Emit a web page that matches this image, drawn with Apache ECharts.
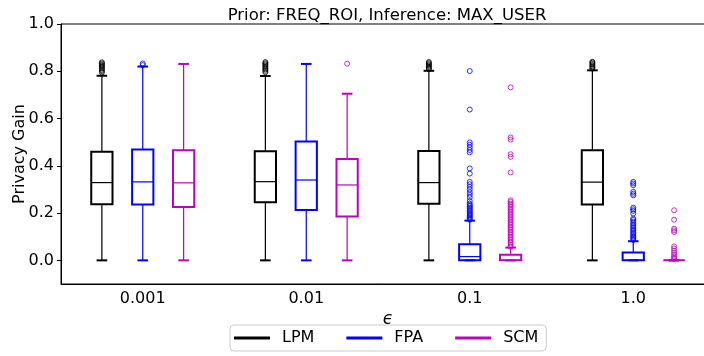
<!DOCTYPE html>
<html>
<head>
<meta charset="utf-8">
<script src="https://cdn.jsdelivr.net/npm/echarts@6/dist/echarts.min.js"></script>
<style>
  html, body { margin: 0; padding: 0; background: #fff; }
  #chart { width: 704px; height: 356px; }
</style>
</head>
<body>
<div id="chart"></div>
<script>
// epsilon values on the x axis
const categories = ['0.001', '0.01', '0.1', '1.0'];
const seriesNames = ['LPM', 'FPA', 'SCM'];
const seriesColors = ['#000000', '#0000ff', '#bf00bf'];
const yTicks = [0.0, 0.2, 0.4, 0.6, 0.8, 1.0];

// box stats per epsilon: [min, q1, median, q3, max]
const lpmStats = [
    [0, 0.237, 0.329, 0.459, 0.781],
    [0, 0.246, 0.333, 0.462, 0.780],
    [0, 0.239, 0.329, 0.463, 0.802],
    [0, 0.236, 0.331, 0.466, 0.804],
];
const fpaStats = [
    [0, 0.236, 0.332, 0.469, 0.820],
    [0, 0.213, 0.340, 0.503, 0.831],
    [0, 0.000, 0.016, 0.068, 0.168],
    [0, 0.000, 0.000, 0.033, 0.081],
];
const scmStats = [
    [0, 0.226, 0.328, 0.466, 0.831],
    [0, 0.186, 0.319, 0.429, 0.705],
    [0, 0.000, 0.000, 0.024, 0.054],
    [0, 0.000, 0.000, 0.000, 0.000],
];

// outliers (fliers) per epsilon
const lpmOutliers = [
    [0.795, 0.801, 0.806, 0.812, 0.818, 0.823, 0.828, 0.833, 0.838],
    [0.796, 0.802, 0.808, 0.813, 0.819, 0.824, 0.829, 0.834, 0.839],
    [0.809, 0.814, 0.819, 0.824, 0.829, 0.834, 0.839],
    [0.811, 0.816, 0.821, 0.826, 0.831, 0.836, 0.840],
];
const fpaOutliers = [
    [0.826, 0.833],
    [],
    [0.801, 0.638, 0.499, 0.489, 0.478, 0.467, 0.457, 0.389, 0.367, 0.332, 0.322,
     0.311, 0.300, 0.288, 0.277, 0.266, 0.251, 0.240, 0.234, 0.229, 0.223, 0.218,
     0.212, 0.207, 0.201, 0.196, 0.191, 0.186, 0.181, 0.176, 0.172],
    [0.332, 0.325, 0.318, 0.290, 0.282, 0.275, 0.223, 0.216, 0.209, 0.198, 0.177,
     0.171, 0.164, 0.157, 0.150, 0.144, 0.137, 0.131, 0.125, 0.119, 0.113, 0.107,
     0.101, 0.096, 0.091, 0.086],
];
const scmOutliers = [
    [],
    [0.832],
    [0.732, 0.520, 0.511, 0.449, 0.438, 0.372, 0.254, 0.247, 0.240, 0.233, 0.226,
     0.219, 0.212, 0.205, 0.198, 0.191, 0.184, 0.177, 0.170, 0.163, 0.156, 0.149,
     0.142, 0.135, 0.128, 0.121, 0.114, 0.107, 0.100, 0.093, 0.086, 0.079, 0.072,
     0.065, 0.058],
    [0.212, 0.172, 0.134, 0.127, 0.120, 0.059, 0.050, 0.041, 0.032, 0.024, 0.017,
     0.011, 0.006],
];

const allStats = [lpmStats, fpaStats, scmStats];
const allOutliers = [lpmOutliers, fpaOutliers, scmOutliers];
const offsets = [-0.25, 0, 0.25];
const boxW = 0.13;
const capW = 0.065;

function renderBox(params, api) {
    const x = api.value(0);
    const pMin = api.coord([x, api.value(1)]);
    const pQ1 = api.coord([x, api.value(2)]);
    const pMed = api.coord([x, api.value(3)]);
    const pQ3 = api.coord([x, api.value(4)]);
    const pMax = api.coord([x, api.value(5)]);
    const hb = api.size([boxW, 0])[0] / 2;
    const hc = api.size([capW, 0])[0] / 2;
    const color = api.visual('color');
    const cx = pMed[0];
    const thin = { stroke: color, lineWidth: 1.2, fill: null };
    return {
        type: 'group',
        children: [
            { type: 'line', shape: { x1: cx, y1: pMin[1], x2: cx, y2: pQ1[1] }, style: thin },
            { type: 'line', shape: { x1: cx, y1: pQ3[1], x2: cx, y2: pMax[1] }, style: thin },
            { type: 'line', shape: { x1: cx - hc, y1: pMin[1], x2: cx + hc, y2: pMin[1] }, style: { stroke: color, lineWidth: 2 } },
            { type: 'line', shape: { x1: cx - hc, y1: pMax[1], x2: cx + hc, y2: pMax[1] }, style: { stroke: color, lineWidth: 2 } },
            { type: 'rect', shape: { x: cx - hb, y: pQ3[1], width: hb * 2, height: pQ1[1] - pQ3[1] },
              style: { stroke: color, lineWidth: 2, fill: null } },
            { type: 'line', shape: { x1: cx - hb, y1: pMed[1], x2: cx + hb, y2: pMed[1] }, style: { stroke: color, lineWidth: 1.2 } },
        ],
    };
}

const series = [];
seriesNames.forEach((name, s) => {
    const boxData = allStats[s].map((st, g) => [g + 1 + offsets[s]].concat(st));
    series.push({
        name: name,
        type: 'custom',
        xAxisIndex: 1,
        yAxisIndex: 0,
        color: seriesColors[s],
        renderItem: renderBox,
        encode: { x: 0, y: [1, 2, 3, 4, 5] },
        data: boxData,
        silent: true,
        z: 3,
    });
    const pts = [];
    allOutliers[s].forEach((vals, g) => {
        vals.forEach(v => pts.push([g + 1 + offsets[s], v]));
    });
    series.push({
        name: name,
        type: 'scatter',
        xAxisIndex: 1,
        yAxisIndex: 0,
        symbol: 'circle',
        symbolSize: 5,
        itemStyle: { color: 'rgba(0,0,0,0)', borderColor: seriesColors[s], borderWidth: 1 },
        data: pts,
        silent: true,
        z: 2,
    });
});

const myChart = echarts.init(document.getElementById('chart'), null, { renderer: 'canvas' });

const option = {
    animation: false,
    textStyle: { fontFamily: 'DejaVu Sans' },
    grid: {
        left: 61,
        right: -11,
        top: 24,
        bottom: 72,
        outerBoundsMode: 'none',
        containLabel: false,
        show: true,
        borderColor: '#000',
        borderWidth: 1,
        backgroundColor: 'transparent',
    },
    graphic: [
        {
            type: 'text',
            x: 387,
            y: 16,
            style: {
                text: 'Prior: FREQ_ROI, Inference: MAX_USER',
                font: '16.5px "DejaVu Sans"',
                fill: '#000',
                textAlign: 'center',
                textVerticalAlign: 'middle',
            },
        },
    ],
    legend: {
        left: 230,
        top: 325,
        itemWidth: 36,
        itemHeight: 3,
        itemGap: 32,
        padding: [5, 8, 5, 4],
        borderColor: '#cccccc',
        borderWidth: 1,
        borderRadius: 4,
        textStyle: { fontSize: 16, color: '#000', fontFamily: 'DejaVu Sans', padding: [0, 0, 0, 7] },
        data: seriesNames.map((n, i) => ({ name: n, icon: 'rect', itemStyle: { color: seriesColors[i] } })),
    },
    xAxis: [
        {
            type: 'category',
            data: categories,
            boundaryGap: true,
            axisLine: { onZero: false, lineStyle: { color: '#000', width: 1 } },
            axisTick: { alignWithLabel: true, length: 4, lineStyle: { color: '#000' } },
            axisLabel: { fontSize: 16, color: '#000', margin: 7 },
            splitLine: { show: false },
            name: 'ϵ',
            nameLocation: 'middle',
            nameGap: 27,
            nameMoveOverlap: false,
            nameTextStyle: { fontSize: 17, color: '#000', fontStyle: 'italic' },
        },
        {
            type: 'value',
            min: 0.5,
            max: 4.5,
            show: false,
        },
    ],
    yAxis: [
        {
            type: 'value',
            min: -0.1,
            max: 1.0,
            axisLine: { show: true, onZero: false, lineStyle: { color: '#000', width: 1 } },
            axisTick: { show: true, length: 4, lineStyle: { color: '#000' }, customValues: yTicks },
            axisLabel: { fontSize: 16, color: '#000', margin: 7, customValues: yTicks,
                         formatter: v => v.toFixed(1) },
            splitLine: { show: false },
            name: 'Privacy Gain',
            nameLocation: 'middle',
            nameGap: 33,
            nameMoveOverlap: false,
            nameRotate: 90,
            nameTextStyle: { fontSize: 16, color: '#000' },
        },
    ],
    series: series,
};

myChart.setOption(option);
</script>
</body>
</html>
